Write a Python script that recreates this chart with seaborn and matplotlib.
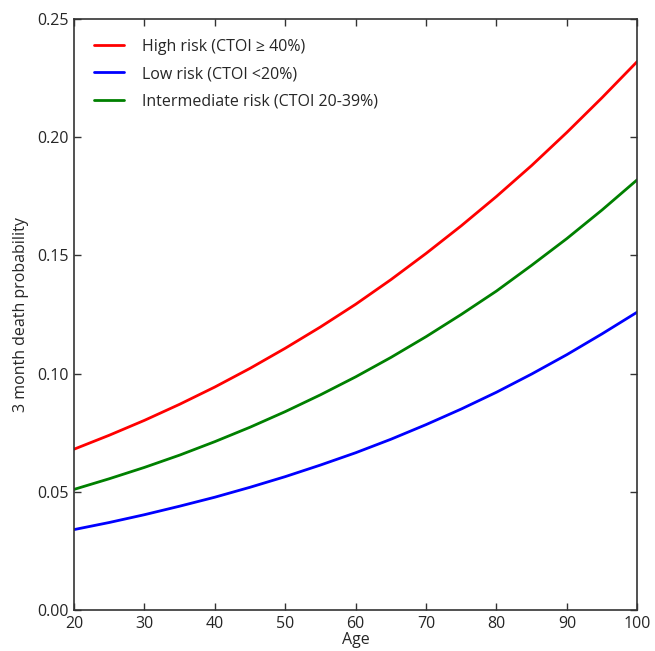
import pandas as pd
import matplotlib
matplotlib.use("Agg")
import matplotlib.pyplot as plt
import seaborn as sns

# values
age = [20, 25, 30, 35, 40, 45, 50, 55, 60, 65, 70, 75, 80, 85, 90, 95, 100]
high_risk = [0.0680, 0.0739, 0.0802, 0.0870, 0.0943, 0.1022, 0.1107, 0.1197, 0.1293,
             0.1397, 0.1508, 0.1625, 0.1749, 0.1880, 0.2020, 0.2167, 0.2320]
low_risk = [0.0340, 0.0370, 0.0403, 0.0439, 0.0477, 0.0519, 0.0564, 0.0613, 0.0665,
            0.0722, 0.0784, 0.0850, 0.0921, 0.0998, 0.1080, 0.1168, 0.1260]
mid_risk = [0.0510, 0.0555, 0.0603, 0.0655, 0.0712, 0.0773, 0.0839, 0.0910, 0.0986,
            0.1068, 0.1156, 0.1250, 0.1349, 0.1458, 0.1571, 0.1692, 0.1820]

labels = ["High risk (CTOI \u2265 40%)", "Low risk (CTOI <20%)", "Intermediate risk (CTOI 20-39%)"]
colors = ["#ff0000", "#0000ff", "#008000"]

df = pd.concat([
    pd.DataFrame({"Age": age, "p": high_risk, "group": labels[0]}),
    pd.DataFrame({"Age": age, "p": low_risk, "group": labels[1]}),
    pd.DataFrame({"Age": age, "p": mid_risk, "group": labels[2]}),
])

sns.set_style("white", {"xtick.direction": "in", "ytick.direction": "in",
                        "axes.edgecolor": "#333333"})
plt.rcParams["font.family"] = ["Open Sans", "DejaVu Sans"]

fig = plt.figure(figsize=(6.55, 6.51), dpi=100)
ax = fig.add_axes([0.113, 0.063, 0.86, 0.908])

sns.lineplot(data=df, x="Age", y="p", hue="group", hue_order=labels,
             palette=dict(zip(labels, colors)), linewidth=2, ax=ax)

ax.set_xlim(20, 100)
ax.set_ylim(0, 0.25)
ax.set_xticks(range(20, 101, 10))
ax.set_yticks([0.0, 0.05, 0.10, 0.15, 0.20, 0.25])
ax.set_yticklabels(["0.00", "0.05", "0.10", "0.15", "0.20", "0.25"])
ax.tick_params(axis="both", which="both", direction="in", length=5, width=1,
               top=True, right=True, bottom=True, left=True, labelsize=11.5,
               color="#333333", pad=4)
for s in ax.spines.values():
    s.set_linewidth(1.2)
    s.set_color("#333333")

ax.set_xlabel("Age", fontsize=11.5, labelpad=0)
ax.set_ylabel("3 month death probability", fontsize=11.5, labelpad=6)

leg = ax.legend(loc="upper left", frameon=False, fontsize=11.5, handlelength=1.9,
                handletextpad=1.1, labelspacing=0.7, borderaxespad=0.85)
for line in leg.get_lines():
    line.set_linewidth(2)

fig.savefig("out.png", dpi=100)
